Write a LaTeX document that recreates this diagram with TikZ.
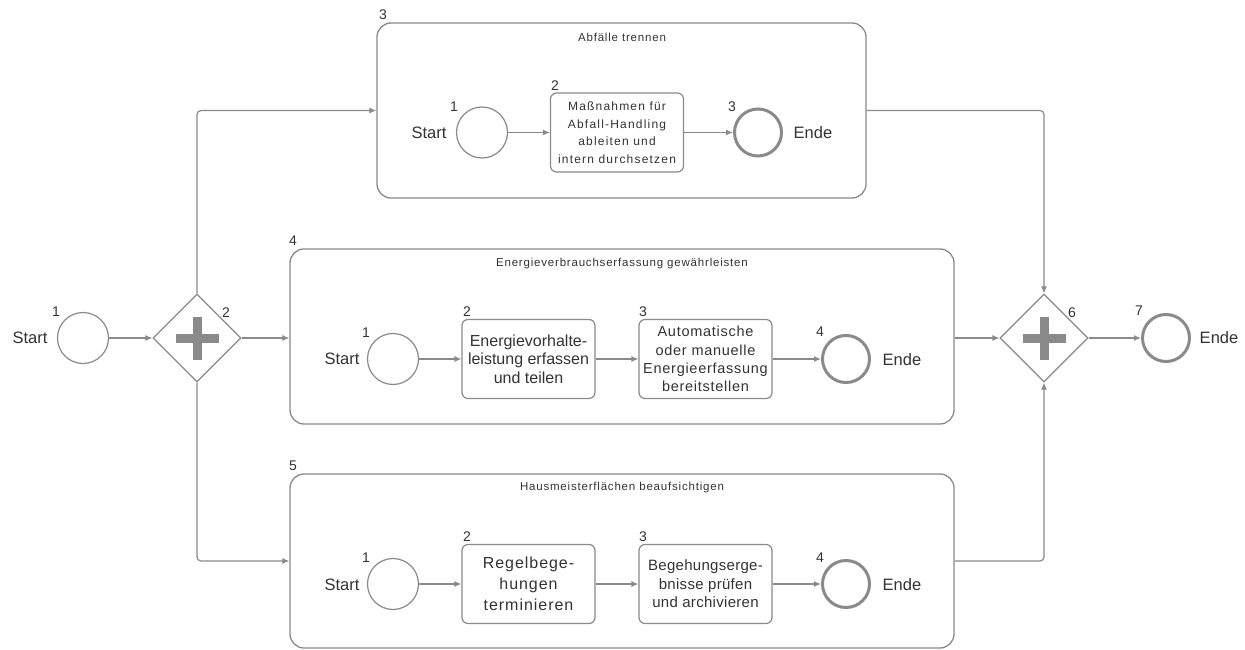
\documentclass[tikz,border=0pt]{standalone}
\usepackage{fontspec}
\setmainfont{Liberation Sans}
\usetikzlibrary{shapes.geometric,arrows.meta}
\definecolor{ln}{HTML}{8A8A8A}
\definecolor{tx}{HTML}{333333}
\begin{document}
\begin{tikzpicture}[x=1pt,y=-1pt,
  startev/.style={circle, draw=ln, line width=1.2pt, minimum size=51pt, inner sep=0pt},
  endev/.style={circle, draw=ln, line width=3pt, minimum size=47pt, inner sep=0pt},
  taskbox/.style={rectangle, rounded corners=6pt, draw=ln, line width=1.2pt, minimum width=133pt, minimum height=79pt, align=center, text=tx, inner sep=0pt},
  subbox/.style={rectangle, rounded corners=14pt, draw=ln, line width=1.3pt, inner sep=0pt},
  gw/.style={diamond, draw=ln, line width=1.2pt, minimum width=88pt, minimum height=88pt, inner sep=0pt, aspect=1},
  flow/.style={draw=ln, line width=1.2pt, -{Latex[length=7pt,width=6pt]}, rounded corners=4pt},
  numlbl/.style={text=tx, inner sep=0pt, font=\fontsize{14}{14}\selectfont},
  evlbl/.style={text=tx, inner sep=0pt, font=\fontsize{16.5}{16.5}\selectfont},
  titlelbl/.style={text=tx, inner sep=0pt, font=\fontsize{11.5}{12}\selectfont\addfontfeature{LetterSpace=7}},
  plus/.style={fill=ln}
]
\useasboundingbox[fill=white] (0,0) rectangle (1245,650);

% main level
\node[startev] (s0) at (83,338) {};
\node[evlbl] (s0t) at (30,338) {Start};
\node[numlbl] (s0n) at (56,312) {1};
\node[gw] (g1) at (197,338) {};
\node[numlbl] (g1n) at (226,313) {2};
\fill[plus] (g1.center) ++(-21.5,-4.5) rectangle ++(43,9);
\fill[plus] (g1.center) ++(-4.5,-21.5) rectangle ++(9,43);
\node[gw] (g2) at (1044,338) {};
\node[numlbl] (g2n) at (1072,313) {6};
\fill[plus] (g2.center) ++(-21.5,-4.5) rectangle ++(43,9);
\fill[plus] (g2.center) ++(-4.5,-21.5) rectangle ++(9,43);
\node[endev] (e0) at (1166,338) {};
\node[numlbl] (e0n) at (1139,311) {7};
\node[evlbl] (e0t) at (1219,338) {Ende};

% subprocess 3
\node[subbox, minimum width=489pt, minimum height=175pt] (sp1) at (621.5,110.5) {};
\node[numlbl] (sp1n) at (383,15) {3};
\node[titlelbl] (sp1t) at (622,37) {Abfälle trennen};
\node[startev] (a1) at (482,132.5) {};
\node[evlbl] (a1t) at (429,133) {Start};
\node[numlbl] (a1n) at (454,107) {1};
\node[taskbox, font=\fontsize{12}{17.5}\selectfont\addfontfeature{LetterSpace=10}] (a2) at (617,132.5) {Maßnahmen für\\Abfall-Handling\\ableiten und\\intern durchsetzen};
\node[numlbl] (a2n) at (555,86) {2};
\node[endev] (a3) at (758,132.5) {};
\node[numlbl] (a3n) at (732,107) {3};
\node[evlbl] (a3t) at (813,133) {Ende};
\draw[flow] (a1) -- (a2);
\draw[flow] (a2) -- (a3);

% subprocess 4
\node[subbox, minimum width=664pt, minimum height=175pt] (sp2) at (622,336.5) {};
\node[numlbl] (sp2n) at (293,241) {4};
\node[titlelbl] (sp2t) at (622,264) {Energieverbrauchserfassung gewährleisten};
\node[startev] (b1) at (393,359) {};
\node[evlbl] (b1t) at (342,359) {Start};
\node[numlbl] (b1n) at (366,333) {1};
\node[taskbox, font=\fontsize{16}{18.5}\selectfont] (b2) at (528.5,359) {Energievorhalte-\\leistung erfassen\\und teilen};
\node[numlbl] (b2n) at (467,312) {2};
\node[taskbox, font=\fontsize{14.5}{18.2}\selectfont\addfontfeature{LetterSpace=5}] (b3) at (705.5,359) {Automatische\\oder manuelle\\Energieerfassung\\bereitstellen};
\node[numlbl] (b3n) at (643,312) {3};
\node[endev] (b4) at (846,359) {};
\node[numlbl] (b4n) at (820,332) {4};
\node[evlbl] (b4t) at (902,360) {Ende};
\draw[flow] (b1) -- (b2);
\draw[flow] (b2) -- (b3);
\draw[flow] (b3) -- (b4);

% subprocess 5
\node[subbox, minimum width=664pt, minimum height=174pt] (sp3) at (622,561) {};
\node[numlbl] (sp3n) at (293,466) {5};
\node[titlelbl] (sp3t) at (622,488) {Hausmeisterflächen beaufsichtigen};
\node[startev] (c1) at (393,584) {};
\node[evlbl] (c1t) at (342,585) {Start};
\node[numlbl] (c1n) at (366,558) {1};
\node[taskbox, font=\fontsize{16}{21}\selectfont\addfontfeature{LetterSpace=6}] (c2) at (528.5,584) {Regelbege-\\hungen\\terminieren};
\node[numlbl] (c2n) at (467,537) {2};
\node[taskbox, font=\fontsize{15}{18.5}\selectfont\addfontfeature{LetterSpace=2}] (c3) at (705.5,584) {Begehungserge-\\bnisse prüfen\\und archivieren};
\node[numlbl] (c3n) at (643,537) {3};
\node[endev] (c4) at (846,584) {};
\node[numlbl] (c4n) at (820,558) {4};
\node[evlbl] (c4t) at (902,585) {Ende};
\draw[flow] (c1) -- (c2);
\draw[flow] (c2) -- (c3);
\draw[flow] (c3) -- (c4);

% main flows
\draw[flow] (s0) -- (g1);
\draw[flow] (g1.east) -- (g1.east -| sp2.west);
\draw[flow] (g1.north) |- (sp1.west);
\draw[flow] (g1.south) |- (sp3.west);
\draw[flow] (sp1.east) -| (g2.north);
\draw[flow] (sp2.east |- g2.west) -- (g2.west);
\draw[flow] (sp3.east) -| (g2.south);
\draw[flow] (g2) -- (e0);
\end{tikzpicture}
\end{document}
